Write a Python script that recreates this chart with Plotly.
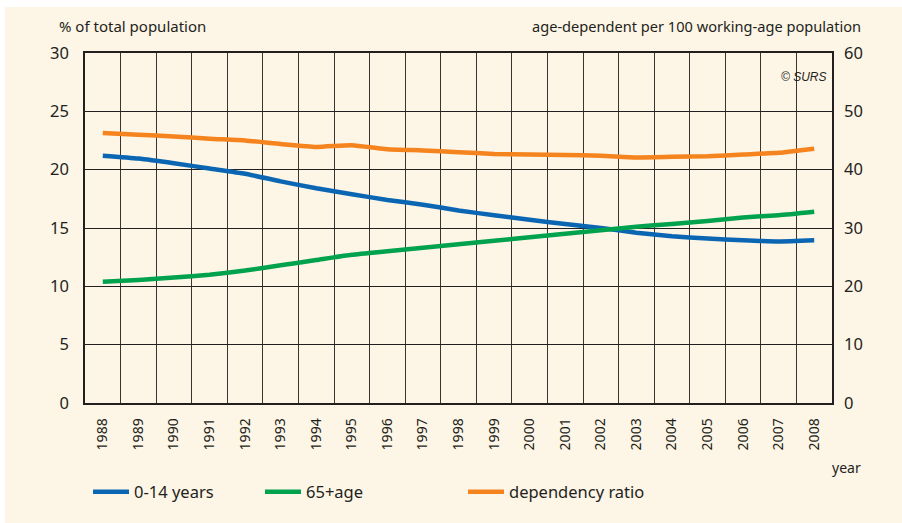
import plotly.graph_objects as go

years = list(range(1988, 2009))
year_labels = [str(y) for y in years]
age_0_14 = [21.2, 20.95, 20.55, 20.1, 19.65, 19.0, 18.4, 17.9, 17.4, 17.0, 16.5,
            16.1, 15.7, 15.35, 15.0, 14.6, 14.3, 14.1, 13.95, 13.85, 13.95]
age_65_plus = [10.4, 10.55, 10.75, 11.0, 11.35, 11.8, 12.25, 12.7, 13.0, 13.3, 13.6,
               13.9, 14.2, 14.5, 14.8, 15.1, 15.35, 15.6, 15.9, 16.1, 16.4]
dependency_ratio = [46.3, 46.0, 45.7, 45.3, 45.0, 44.4, 43.9, 44.2, 43.5, 43.3, 43.0,
                    42.7, 42.6, 42.5, 42.4, 42.1, 42.2, 42.3, 42.6, 42.9, 43.6]
left_ticks = [0, 5, 10, 15, 20, 25, 30]
right_ticks = [0, 10, 20, 30, 40, 50, 60]

CREAM = "#fdf5e6"
INK = "#231f20"
FONT = "Noto Sans"

fig = go.Figure()
fig.add_trace(go.Scatter(x=years, y=age_0_14, mode="lines", name="0-14 years",
                         line=dict(color="#0a66b3", width=4.5, shape="spline", smoothing=0.5),
                         legend="legend", showlegend=True))
fig.add_trace(go.Scatter(x=years, y=age_65_plus, mode="lines", name="65+age",
                         line=dict(color="#00a24e", width=4.5, shape="spline", smoothing=0.5),
                         legend="legend2", showlegend=True))
fig.add_trace(go.Scatter(x=years, y=dependency_ratio, mode="lines", name="dependency ratio",
                         line=dict(color="#f5841f", width=4.5, shape="spline", smoothing=0.5),
                         yaxis="y2", legend="legend3", showlegend=True))

W, H = 902, 523
L, R, T, B = 85, 70, 53, 120

def px_x(x):
    return (x - L) / (W - L - R)

def px_y(y):
    return 1 - (y - T) / (H - T - B)

legend_common = dict(orientation="h", xanchor="left", yanchor="middle",
                     bgcolor="rgba(0,0,0,0)", font=dict(family=FONT, size=16.5, color=INK),
                     xref="paper", yref="paper", itemwidth=36)

fig.update_layout(
    width=W, height=H,
    showlegend=True,
    margin=dict(l=L, r=R, t=T, b=B),
    paper_bgcolor="white",
    plot_bgcolor=CREAM,
    font=dict(family=FONT, color=INK),
    xaxis=dict(range=[1987.5, 2008.5], tickvals=years, ticktext=year_labels,
               tickangle=-90, showgrid=False, zeroline=False,
               tickfont=dict(size=14, color=INK), ticks="", ticklabelstandoff=8,
               showline=True, mirror=True, linecolor=INK, linewidth=1.5,
               minor=dict(tickvals=[1987.5 + i for i in range(22)], showgrid=True,
                          gridcolor="#3a3531", gridwidth=1, ticks="")),
    yaxis=dict(range=[0, 30], tickvals=left_ticks, showgrid=True, gridcolor=INK,
               gridwidth=1, zeroline=False, ticks="", ticklabelstandoff=11,
               tickfont=dict(size=16.5, color=INK),
               showline=True, mirror=True, linecolor=INK, linewidth=1.5),
    yaxis2=dict(range=[0, 60], tickvals=right_ticks, overlaying="y", side="right",
                showgrid=False, zeroline=False, ticks="", ticklabelstandoff=11,
                tickfont=dict(size=16.5, color=INK)),
    legend=dict(legend_common, x=px_x(88), y=px_y(492)),
    legend2=dict(legend_common, x=px_x(260), y=px_y(492)),
    legend3=dict(legend_common, x=px_x(463), y=px_y(492)),
    shapes=[dict(type="rect", xref="paper", yref="paper", layer="below",
                 x0=px_x(5), x1=px_x(905), y0=px_y(526), y1=px_y(7),
                 fillcolor=CREAM, line=dict(width=0))],
    annotations=[
        dict(text="% of total population", xref="paper", yref="paper",
             x=px_x(57), y=px_y(26), xanchor="left", yanchor="middle", showarrow=False,
             font=dict(family=FONT, size=15, color=INK)),
        dict(text="age-dependent per 100 working-age population", xref="paper", yref="paper",
             x=px_x(863), y=px_y(26), xanchor="right", yanchor="middle", showarrow=False,
             font=dict(family=FONT, size=14.6, color=INK)),
        dict(text="<i>© SURS</i>", xref="paper", yref="paper",
             x=px_x(829), y=px_y(77), xanchor="right", yanchor="middle", showarrow=False,
             font=dict(family="Liberation Sans", size=12, color=INK)),
        dict(text="year", xref="paper", yref="paper",
             x=px_x(863), y=px_y(467), xanchor="right", yanchor="middle", showarrow=False,
             font=dict(family=FONT, size=14, color=INK)),
    ],
)

fig.write_html("out.html", config={"displayModeBar": False},
               post_script="document.body.style.margin='0';")
